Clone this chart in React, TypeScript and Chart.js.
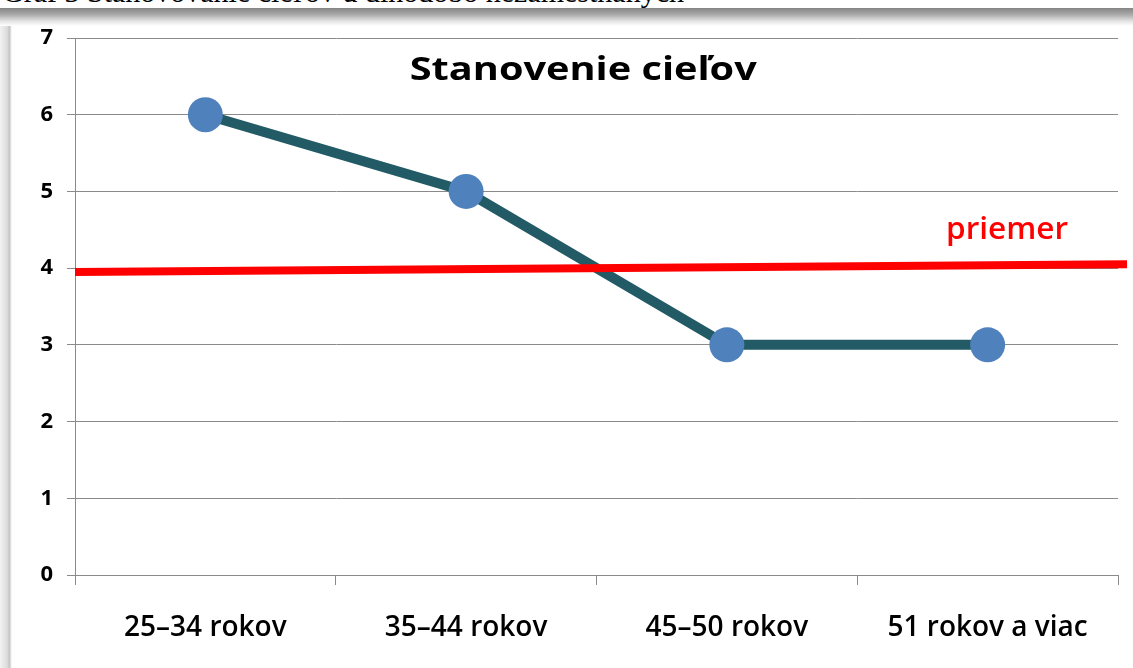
import React, { useEffect, useRef } from "react";
import { Chart, registerables } from "chart.js";

Chart.register(...registerables);

const caption = "Graf 3 Stanovovanie cieľov u dlhodobo nezamestnaných";
const chartTitle = "Stanovenie cieľov";
const categories = ["25–34 rokov", "35–44 rokov", "45–50 rokov", "51 rokov a viac"];
const values = [6, 5, 3, 3];
const averageLabel = "priemer";
const averageStart = 3.95;
const averageEnd = 4.05;
const yMin = 0;
const yMax = 7;
const yStep = 1;

const FONT = "'Open Sans', 'DejaVu Sans', sans-serif";

function drawStretched(ctx: any, text: string, cx: number, baseline: number, targetWidth: number) {
  const w = ctx.measureText(text).width;
  const sx = targetWidth / w;
  ctx.save();
  ctx.translate(cx, baseline);
  ctx.scale(sx, 1);
  ctx.textAlign = "center";
  ctx.textBaseline = "alphabetic";
  ctx.fillText(text, 0, 0);
  ctx.restore();
}

const textPlugin = {
  id: "overlayText",
  afterDatasetsDraw(chart: any) {
    const { ctx, chartArea } = chart;
    const w = chartArea.right - chartArea.left;
    ctx.save();
    ctx.fillStyle = "#000000";
    ctx.font = `700 33px ${FONT}`;
    drawStretched(ctx, chartTitle, chartArea.left + w * 0.4873, chartArea.top + 42, 347);
    const yScale = chart.scales.y;
    ctx.fillStyle = "#ff0000";
    ctx.font = `600 30px ${FONT}`;
    drawStretched(ctx, averageLabel, chartArea.left + w * 0.8936, yScale.getPixelForValue(averageEnd) - 25, 122);
    ctx.restore();
  },
};

function ChartView() {
  const ref = useRef<HTMLCanvasElement | null>(null);
  useEffect(() => {
    if (!ref.current) return;
    const gridColor = "#8a8a8a";
    const chart = new Chart(ref.current, {
      type: "line",
      data: {
        labels: categories,
        datasets: [
          {
            label: averageLabel,
            data: [
              { x: 0, y: averageStart },
              { x: 1, y: averageEnd },
            ] as any,
            xAxisID: "x2",
            borderColor: "#ff0000",
            borderWidth: 8,
            pointRadius: 0,
            clip: false as any,
            order: 0,
          },
          {
            label: chartTitle,
            data: values,
            xAxisID: "x",
            borderColor: "#225b66",
            borderWidth: 10,
            pointRadius: 17.5,
            pointBackgroundColor: "#4f81bd",
            pointBorderColor: "#4f81bd",
            pointBorderWidth: 0,
            order: 1,
          },
        ],
      },
      options: {
        animation: false,
        responsive: false,
        maintainAspectRatio: false,
        layout: { autoPadding: false, padding: { top: 12, right: 15, left: 0, bottom: 0 } },
        plugins: {
          legend: { display: false },
          title: { display: false },
          tooltip: { enabled: false },
        },
        scales: {
          x: {
            type: "category",
            offset: true,
            grid: {
              offset: true,
              drawOnChartArea: false,
              drawTicks: true,
              tickLength: 10,
              color: gridColor,
            },
            border: { display: true, color: gridColor, width: 1 },
            ticks: {
              color: "#000000",
              font: { family: FONT, size: 28, weight: "600" as any },
              padding: 26,
              maxRotation: 0,
            },
            afterFit(scale: any) {
              scale.height = 93;
              scale.paddingLeft = 0;
              scale.paddingRight = 0;
            },
          },
          x2: {
            type: "linear",
            display: false,
            min: 0,
            max: 0.9914,
          },
          y: {
            min: yMin,
            max: yMax,
            ticks: {
              stepSize: yStep,
              color: "#000000",
              font: { family: FONT, size: 22, weight: "700" as any },
              padding: 14,
            },
            grid: { color: gridColor, lineWidth: 1, tickLength: 8 },
            border: { display: true, color: gridColor, width: 1 },
            afterFit(scale: any) {
              scale.width = 63;
              scale.paddingTop = 0;
              scale.paddingBottom = 0;
            },
          },
        },
      },
      plugins: [textPlugin],
    });
    return () => chart.destroy();
  }, []);
  return (
    <canvas
      ref={ref}
      width={1121}
      height={642}
      style={{ position: "absolute", left: 12, top: 26, width: 1121, height: 642 }}
    />
  );
}

export default function App() {
  return (
    <div
      style={{
        position: "fixed",
        left: 0,
        top: 0,
        width: 1133,
        height: 668,
        overflow: "hidden",
        background: "#ffffff",
      }}
    >
      <div
        style={{
          position: "absolute",
          left: 2,
          top: -25,
          whiteSpace: "nowrap",
          fontFamily: "'Liberation Serif', 'Times New Roman', serif",
          fontSize: 30,
          lineHeight: "33px",
          color: "#000",
        }}
      >
        {caption}
      </div>
      <div
        style={{
          position: "absolute",
          left: 0,
          top: 8,
          width: 1133,
          height: 18,
          background: "linear-gradient(to bottom, #858585 0%, #a8a8a8 35%, #e6e6e6 75%, #ffffff 100%)",
        }}
      />
      <div
        style={{
          position: "absolute",
          left: 0,
          top: 26,
          width: 12,
          height: 642,
          background: "linear-gradient(to right, #f2f2f2 0%, #dcdcdc 60%, #c4c4c4 78%, #ffffff 100%)",
        }}
      />
      <ChartView />
    </div>
  );
}
